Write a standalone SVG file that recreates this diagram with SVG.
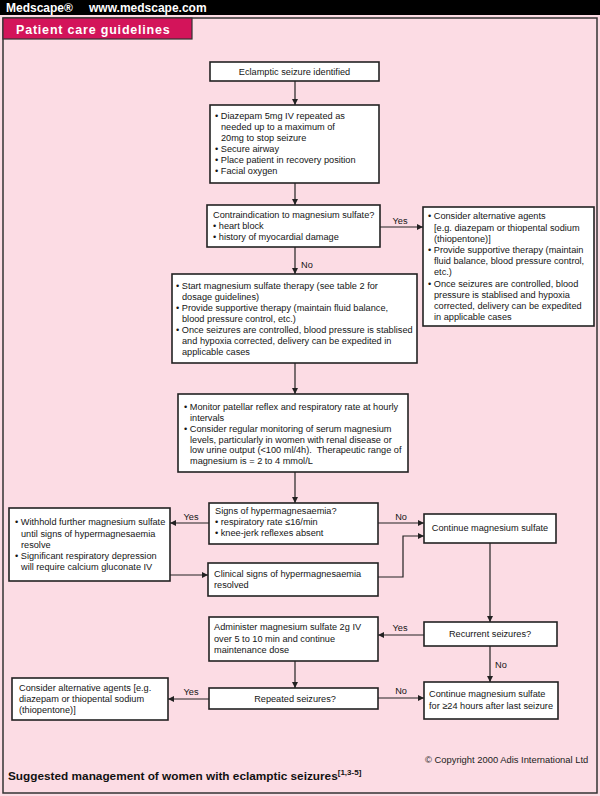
<svg xmlns="http://www.w3.org/2000/svg" width="600" height="796" viewBox="0 0 600 796">
<defs>
<style>
.t{font-family:"Liberation Sans",Arial,sans-serif;font-size:9.2px;fill:#151515}
.c{text-anchor:middle}
.box{fill:#ffffff;stroke:#222;stroke-width:1.6}
.ln{fill:none;stroke:#222;stroke-width:1.2}
.lbl{font-family:"Liberation Sans",Arial,sans-serif;font-size:9.2px;fill:#151515;text-anchor:middle}
</style>
<marker id="ah" viewBox="0 0 10 10" refX="10" refY="5" markerWidth="6" markerHeight="6" markerUnits="userSpaceOnUse" orient="auto">
<path d="M0,0 L10,5 L0,10 z" fill="#222"/>
</marker>
</defs>
<rect x="0" y="0" width="600" height="796" fill="#fcdce4"/>
<rect x="0" y="0" width="600" height="15" fill="#000"/>
<text x="6" y="12" font-family="Liberation Sans,Arial,sans-serif" font-size="12" font-weight="bold" fill="#fff">Medscape®</text>
<text x="89" y="12" font-family="Liberation Sans,Arial,sans-serif" font-size="12" font-weight="bold" fill="#fff">www.medscape.com</text>
<rect x="3" y="18" width="594" height="775" fill="none" stroke="#333" stroke-width="1.5"/>
<g id="tab">
<rect x="3" y="18" width="189" height="21" fill="#d3145a" stroke="#333" stroke-width="1.2"/>
<text x="16" y="34" font-family="Liberation Sans,Arial,sans-serif" font-size="12.5" font-weight="900" fill="#fff" letter-spacing="0.8">Patient care guidelines</text>
</g>

<g id="connectors">
<path class="ln" d="M295,81 V105" marker-end="url(#ah)"/>
<path class="ln" d="M295,183 V205" marker-end="url(#ah)"/>
<path class="ln" d="M380,227 H423" marker-end="url(#ah)"/>
<text class="lbl" x="400" y="224">Yes</text>
<path class="ln" d="M295,247 V274" marker-end="url(#ah)"/>
<text class="t" x="301" y="268">No</text>
<path class="ln" d="M295,363 V394" marker-end="url(#ah)"/>
<path class="ln" d="M295,472 V503" marker-end="url(#ah)"/>
<path class="ln" d="M209,523 H170" marker-end="url(#ah)"/>
<text class="lbl" x="191" y="520">Yes</text>
<path class="ln" d="M378,523 H424" marker-end="url(#ah)"/>
<text class="lbl" x="401" y="520">No</text>
<path class="ln" d="M170,575 H208" marker-end="url(#ah)"/>
<path class="ln" d="M378,577 H403 V536 H424" marker-end="url(#ah)"/>
<path class="ln" d="M490,543 V622" marker-end="url(#ah)"/>
<path class="ln" d="M424,635 H378" marker-end="url(#ah)"/>
<text class="lbl" x="400" y="631">Yes</text>
<path class="ln" d="M490,646 V682" marker-end="url(#ah)"/>
<text class="t" x="495" y="668">No</text>
<path class="ln" d="M295,661 V688" marker-end="url(#ah)"/>
<path class="ln" d="M209,699 H168" marker-end="url(#ah)"/>
<text class="lbl" x="191" y="695">Yes</text>
<path class="ln" d="M378,698 H424" marker-end="url(#ah)"/>
<text class="lbl" x="401" y="694">No</text>
</g>

<g id="n1">
<rect class="box" x="210" y="62" width="169" height="19"/>
<text class="t c" x="294.5" y="74.5">Eclamptic seizure identified</text>
</g>
<g id="n2">
<rect class="box" x="210" y="105" width="169" height="78"/>
<text class="t" x="215" y="119.3">• Diazepam 5mg IV repeated as</text>
<text class="t" x="221" y="130.3">needed up to a maximum of</text>
<text class="t" x="221" y="141.3">20mg to stop seizure</text>
<text class="t" x="215" y="152.3">• Secure airway</text>
<text class="t" x="215" y="163.3">• Place patient in recovery position</text>
<text class="t" x="215" y="174.3">• Facial oxygen</text>
</g>
<g id="n3">
<rect class="box" x="207" y="205" width="173" height="42"/>
<text class="t" x="213" y="218.3">Contraindication to magnesium sulfate?</text>
<text class="t" x="213" y="229.3">• heart block</text>
<text class="t" x="213" y="240.3">• history of myocardial damage</text>
</g>
<g id="n4">
<rect class="box" x="423" y="207" width="171" height="119"/>
<text class="t" x="428" y="219.3">• Consider alternative agents</text>
<text class="t" x="434" y="230.5">[e.g. diazepam or thiopental sodium</text>
<text class="t" x="434" y="241.7">(thiopentone)]</text>
<text class="t" x="428" y="252.9">• Provide supportive therapy (maintain</text>
<text class="t" x="434" y="264.1">fluid balance, blood pressure control,</text>
<text class="t" x="434" y="275.3">etc.)</text>
<text class="t" x="428" y="286.5">• Once seizures are controlled, blood</text>
<text class="t" x="434" y="297.7">pressure is stablised and hypoxia</text>
<text class="t" x="434" y="308.9">corrected, delivery can be expedited</text>
<text class="t" x="434" y="320.1">in applicable cases</text>
</g>
<g id="n5">
<rect class="box" x="172" y="274" width="245" height="89"/>
<text class="t" x="176" y="289.3">• Start magnesium sulfate therapy (see table 2 for</text>
<text class="t" x="182" y="300.3">dosage guidelines)</text>
<text class="t" x="176" y="311.3">• Provide supportive therapy (maintain fluid balance,</text>
<text class="t" x="182" y="322.3">blood pressure control, etc.)</text>
<text class="t" x="176" y="333.3">• Once seizures are controlled, blood pressure is stablised</text>
<text class="t" x="182" y="344.3">and hypoxia corrected, delivery can be expedited in</text>
<text class="t" x="182" y="355.3">applicable cases</text>
</g>
<g id="n6">
<rect class="box" x="178" y="394" width="230" height="78"/>
<text class="t" x="184" y="409.8">• Monitor patellar reflex and respiratory rate at hourly</text>
<text class="t" x="190" y="420.7">intervals</text>
<text class="t" x="184" y="431.6">• Consider regular monitoring of serum magnesium</text>
<text class="t" x="190" y="442.5">levels, particularly in women with renal disease or</text>
<text class="t" x="190" y="453.4">low urine output (&lt;100 ml/4h).&#160; Therapeutic range of</text>
<text class="t" x="190" y="464.3">magnesium is = 2 to 4 mmol/L</text>
</g>
<g id="n7">
<rect class="box" x="209" y="503" width="169" height="41"/>
<text class="t" x="215" y="514.3">Signs of hypermagnesaemia?</text>
<text class="t" x="215" y="525.3">• respiratory rate ≤16/min</text>
<text class="t" x="215" y="536.3">• knee-jerk reflexes absent</text>
</g>
<g id="n8">
<rect class="box" x="9" y="508" width="161" height="73"/>
<text class="t" x="15" y="525.3">• Withhold further magnesium sulfate</text>
<text class="t" x="21" y="536.5">until signs of hypermagnesaemia</text>
<text class="t" x="21" y="547.7">resolve</text>
<text class="t" x="15" y="558.9">• Significant respiratory depression</text>
<text class="t" x="21" y="570.1">will require calcium gluconate IV</text>
</g>
<g id="n9">
<rect class="box" x="424" y="514" width="132" height="29"/>
<text class="t c" x="490" y="531.3">Continue magnesium sulfate</text>
</g>
<g id="n10">
<rect class="box" x="208" y="563" width="170" height="33"/>
<text class="t" x="214" y="577.3">Clinical signs of hypermagnesaemia</text>
<text class="t" x="214" y="588.3">resolved</text>
</g>
<g id="n11">
<rect class="box" x="209" y="617" width="169" height="44"/>
<text class="t" x="214" y="630.3">Administer magnesium sulfate 2g IV</text>
<text class="t" x="214" y="641.6">over 5 to 10 min and continue</text>
<text class="t" x="214" y="652.9">maintenance dose</text>
</g>
<g id="n12">
<rect class="box" x="424" y="622" width="133" height="24"/>
<text class="t c" x="490" y="637.3">Recurrent seizures?</text>
</g>
<g id="n13">
<rect class="box" x="209" y="688" width="169" height="21"/>
<text class="t c" x="295" y="701.8">Repeated seizures?</text>
</g>
<g id="n14">
<rect class="box" x="12" y="678" width="156" height="42"/>
<text class="t" x="19" y="691.3">Consider alternative agents [e.g.</text>
<text class="t" x="19" y="702.3">diazepam or thiopental sodium</text>
<text class="t" x="19" y="713.3">(thiopentone)]</text>
</g>
<g id="n15">
<rect class="box" x="424" y="682" width="134" height="37"/>
<text class="t" x="429" y="697.3">Continue magnesium sulfate</text>
<text class="t" x="429" y="708.6">for ≥24 hours after last seizure</text>
</g>

<text x="425" y="763" font-family="Liberation Sans,Arial,sans-serif" font-size="9.4" fill="#222">© Copyright 2000 Adis International Ltd</text>
<text x="8" y="780" font-family="Liberation Sans,Arial,sans-serif" font-size="11.8" font-weight="bold" fill="#111">Suggested management of women with eclamptic seizures<tspan font-size="8" dy="-5">[1,3-5]</tspan></text>
</svg>
